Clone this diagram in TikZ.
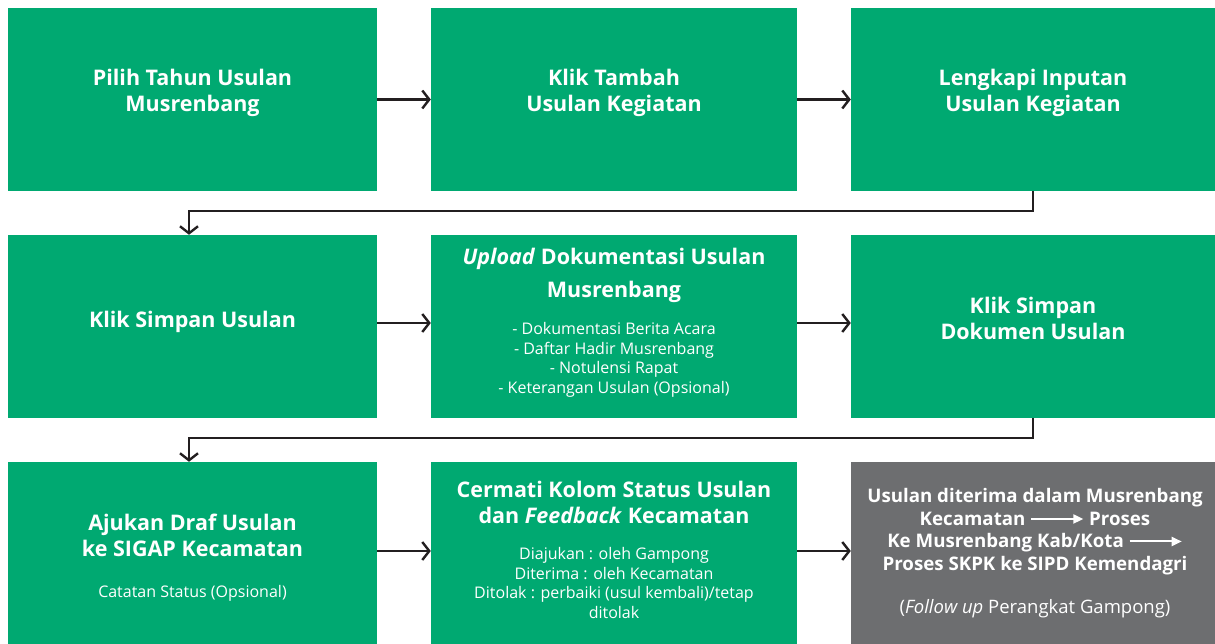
\documentclass[tikz,border=0pt]{standalone}
\usepackage{fontspec}
\setmainfont{Open Sans}
\usetikzlibrary{arrows.meta}
\definecolor{boxgreen}{RGB}{0,169,113}
\definecolor{boxgrey}{RGB}{109,110,112}
\definecolor{linedark}{RGB}{35,31,32}
\newcommand{\inarrow}{\tikz[baseline=-0.6ex]\draw[white,line width=2pt,-{Triangle[length=10pt,width=9pt]}] (0pt,0pt) -- (52pt,0pt);}

\begin{document}
\begin{tikzpicture}[x=1pt,y=-1pt]
\tikzstyle{BoxStyle}=[rectangle, fill=boxgreen, inner sep=0pt,
                      minimum height=183pt]
\tikzstyle{HeadStyle}=[text=white, align=center, inner sep=0pt,
                       font=\bfseries\fontsize{21.5}{26}\selectfont]
\tikzstyle{NoteStyle}=[text=white, align=center, inner sep=0pt,
                       font=\fontsize{16}{19.5}\selectfont]
\tikzstyle{FlowStyle}=[draw=linedark, line width=2.4pt,
                       -{Straight Barb[length=7pt,width=18pt]}]
\useasboundingbox (0,0) rectangle (1215,644);
% row 1
\node[BoxStyle, minimum width=369pt] (v0) at (192.5,99.5) {};
\node[BoxStyle, minimum width=366pt] (v1) at (614,99.5) {};
\node[BoxStyle, minimum width=364pt] (v2) at (1033,99.5) {};
% row 2
\node[BoxStyle, minimum width=369pt] (v3) at (192.5,326.5) {};
\node[BoxStyle, minimum width=366pt] (v4) at (614,326.5) {};
\node[BoxStyle, minimum width=364pt] (v5) at (1033,326.5) {};
% row 3
\node[BoxStyle, minimum width=369pt, minimum height=182pt] (v6) at (192.5,553) {};
\node[BoxStyle, minimum width=366pt, minimum height=182pt] (v7) at (614,553) {};
\node[BoxStyle, minimum width=364pt, minimum height=182pt, fill=boxgrey] (v8) at (1033,553) {};
% texts
\node[HeadStyle] (l0) at (192.5,92.5) {Pilih Tahun Usulan\\Musrenbang};
\node[HeadStyle] (l1) at (614,92.5) {Klik Tambah\\Usulan Kegiatan};
\node[HeadStyle] (l2) at (1033,92.5) {Lengkapi Inputan\\Usulan Kegiatan};
\node[HeadStyle] (l3) at (192.5,321.5) {Klik Simpan Usulan};
\node[HeadStyle, font=\bfseries\fontsize{21.5}{33}\selectfont] (l4) at (614,275.5)
  {\textit{Upload} Dokumentasi Usulan\\Musrenbang};
\node[NoteStyle] (n4) at (614,360) {- Dokumentasi Berita Acara\\- Daftar Hadir Musrenbang\\
  - Notulensi Rapat\\- Keterangan Usulan (Opsional)};
\node[HeadStyle] (l5) at (1033,318) {Klik Simpan\\Dokumen Usulan};
\node[HeadStyle] (l6) at (192.5,535.5) {Ajukan Draf Usulan\\ke SIGAP Kecamatan};
\node[NoteStyle] (n6) at (192.5,593.5) {Catatan Status (Opsional)};
\node[HeadStyle] (l7) at (614,502) {Cermati Kolom Status Usulan\\dan \textit{Feedback} Kecamatan};
\node[NoteStyle] (n7) at (614,583) {Diajukan : oleh Gampong\\Diterima : oleh Kecamatan\\
  Ditolak : perbaiki (usul kembali)/tetap\\ditolak};
\node[HeadStyle, font=\bfseries\fontsize{18.7}{22.5}\selectfont] (l8) at (1035,531.5)
  {Usulan diterima dalam Musrenbang\\Kecamatan \inarrow\ Proses\\
   Ke Musrenbang Kab/Kota \inarrow\\Proses SKPK ke SIPD Kemendagri};
\node[NoteStyle, font=\fontsize{18.5}{20}\selectfont] (n8) at (1035,609)
  {(\textit{Follow up} Perangkat Gampong)};
% connectors
\draw[FlowStyle] (v0.east) -- (v1.west);
\draw[FlowStyle] (v1.east) -- (v2.west);
\draw[FlowStyle] (v2.south) -- ++(0,20) -| ([xshift=-3.5pt]v3.north);
\draw[FlowStyle] ([yshift=3.5pt]v3.east) -- ([yshift=3.5pt]v4.west);
\draw[FlowStyle] ([yshift=3.5pt]v4.east) -- ([yshift=3.5pt]v5.west);
\draw[FlowStyle] (v5.south) -- ++(0,20) -| ([xshift=-3.5pt]v6.north);
\draw[FlowStyle] ([yshift=2pt]v6.east) -- ([yshift=2pt]v7.west);
\draw[FlowStyle] ([yshift=2pt]v7.east) -- ([yshift=2pt]v8.west);
\end{tikzpicture}
\end{document}
